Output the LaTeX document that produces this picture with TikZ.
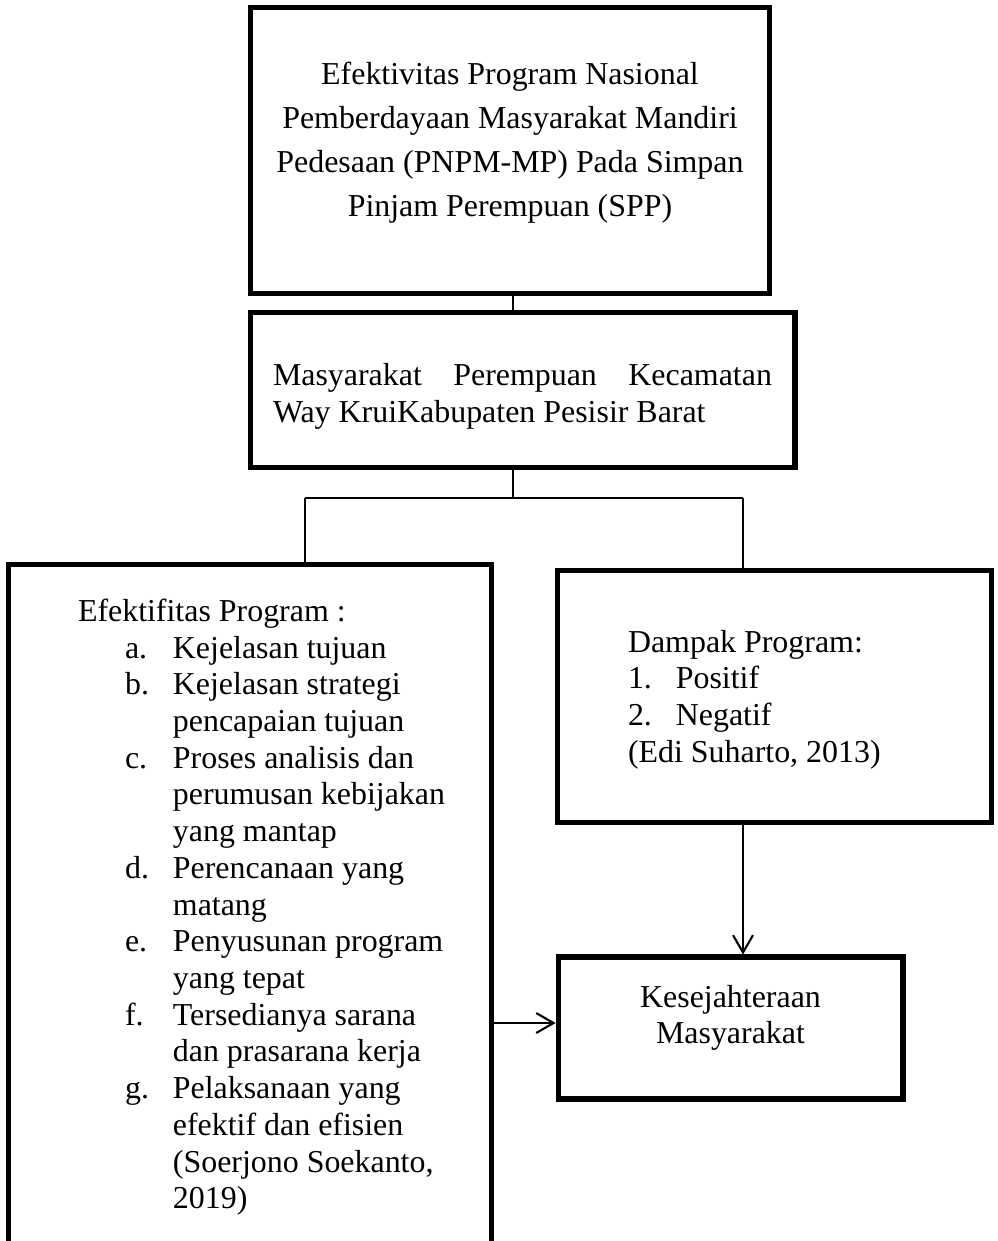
\documentclass[tikz,border=0pt]{standalone}
\usepackage{fontspec}
\setmainfont{Liberation Serif}
\usetikzlibrary{arrows.meta}
\newcommand{\itemlab}[1]{\makebox[18pt][l]{#1}}
\newcommand{\contind}{\hspace*{17.7pt}}
\begin{document}
\begin{tikzpicture}[x=0.376pt,y=-0.376pt,
  box/.style={draw,line width=1.9pt,inner sep=0pt,outer sep=0pt},
  txt/.style={inner sep=0pt,outer sep=0pt,font=\fontsize{12pt}{13.8pt}\selectfont},
  link/.style={line width=0.6pt},
  arr/.style={line width=0.8pt,shorten >=0.9pt,-{Straight Barb[length=6.5pt,width=7.5pt]}}]
\useasboundingbox (0,0) rectangle (997,1241);
% boxes
\node[box,minimum width=195.3pt,minimum height=107.7pt] (top) at (509.75,150.75) {};
\node[box,minimum width=204.9pt,minimum height=58.3pt] (mid) at (522.5,390) {};
\node[box,minimum width=181.6pt,minimum height=261.3pt] (left) at (250,912) {};
\node[box,minimum width=163.2pt,minimum height=94.9pt] (right) at (774.5,696.75) {};
\node[box,minimum width=129.7pt,minimum height=53.4pt] (kes) at (730.5,1028) {};
% texts
\node[txt,align=center,anchor=north,font=\fontsize{12pt}{16.5pt}\selectfont] (toptxt) at (510,62)
 {Efektivitas Program Nasional\\Pemberdayaan Masyarakat Mandiri\\Pedesaan (PNPM-MP) Pada Simpan\\Pinjam Perempuan (SPP)};
\node[txt,align=left,anchor=north west,font=\fontsize{12pt}{14pt}\selectfont] (midtxt) at (273,363)
 {\makebox[187.6pt][s]{Masyarakat Perempuan Kecamatan}\\Way KruiKabupaten Pesisir Barat};
\node[txt,align=left,anchor=north west] (lefttxt) at (78,599)
 {Efektifitas Program :\\
  \contind\itemlab{a.}Kejelasan tujuan\\
  \contind\itemlab{b.}Kejelasan strategi\\
  \contind\hspace*{18pt}pencapaian tujuan\\
  \contind\itemlab{c.}Proses analisis dan\\
  \contind\hspace*{18pt}perumusan kebijakan\\
  \contind\hspace*{18pt}yang mantap\\
  \contind\itemlab{d.}Perencanaan yang\\
  \contind\hspace*{18pt}matang\\
  \contind\itemlab{e.}Penyusunan program\\
  \contind\hspace*{18pt}yang tepat\\
  \contind\itemlab{f.}Tersedianya sarana\\
  \contind\hspace*{18pt}dan prasarana kerja\\
  \contind\itemlab{g.}Pelaksanaan yang\\
  \contind\hspace*{18pt}efektif dan efisien\\
  \contind\hspace*{18pt}(Soerjono Soekanto,\\
  \contind\hspace*{18pt}2019)};
\node[txt,align=left,anchor=north west] (righttxt) at (628,630)
 {Dampak Program:\\
  \itemlab{1.}Positif\\
  \itemlab{2.}Negatif\\
  (Edi Suharto, 2013)};
\node[txt,align=center,anchor=north] (kestxt) at (730.5,985)
 {Kesejahteraan\\Masyarakat};
% connectors
\coordinate (j0) at (513,498);
\coordinate (jl) at (305,498);
\coordinate (jr) at (743,498);
\coordinate (ay) at (0,1023);
\draw[link] (top.south -| j0) -- (mid.north -| j0);
\draw[link] (mid.south -| j0) -- (j0);
\draw[link] (jl) -- (jr);
\draw[link] (jl) -- (left.north -| jl);
\draw[link] (jr) -- (right.north -| jr);
\draw[arr] (right.south -| jr) -- (kes.north -| jr);
\draw[arr] (left.east |- ay) -- (kes.west |- ay);
\end{tikzpicture}
\end{document}
